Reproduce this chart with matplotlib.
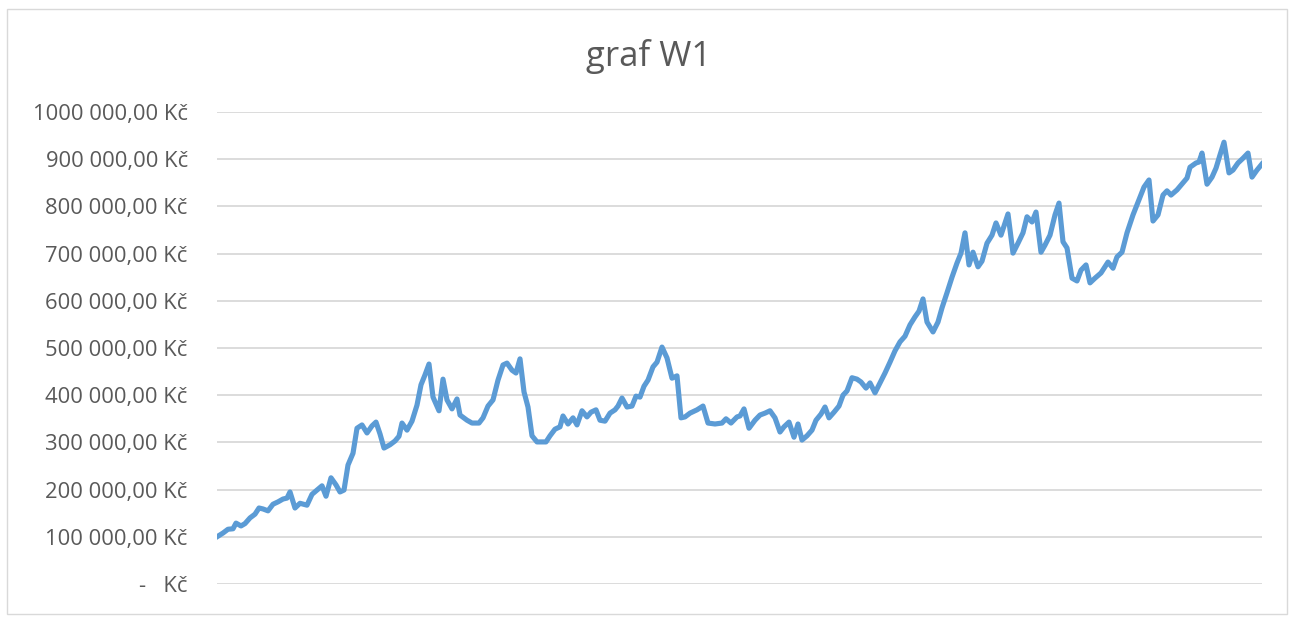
import matplotlib.pyplot as plt
from matplotlib.patches import Rectangle

# === Data ===
den = [0, 6, 11, 16, 19, 24, 28, 33, 38, 42, 46, 51, 56, 61, 66, 70, 73, 78, 83, 90,
       95, 100, 105, 109, 114, 119, 123, 127, 131, 136, 140, 145, 150, 155, 159, 163, 167, 173, 178, 182,
       185, 190, 195, 200, 204, 208, 212, 216, 222, 226, 230, 235, 240, 243, 250, 255, 262, 266, 271, 276,
       281, 286, 290, 295, 299, 303, 307, 311, 315, 320, 329, 333, 338, 343, 346, 351, 356, 360, 365, 370,
       374, 379, 383, 388, 393, 398, 401, 405, 410, 415, 419, 423, 427, 431, 436, 440, 445, 450, 455, 460,
       464, 468, 473, 480, 486, 491, 498, 505, 509, 514, 520, 523, 527, 532, 538, 543, 548, 553, 558, 563,
       567, 572, 577, 581, 585, 590, 595, 599, 604, 608, 612, 617, 622, 626, 630, 635, 640, 644, 649, 653,
       658, 663, 668, 673, 678, 683, 688, 693, 698, 702, 706, 710, 716, 721, 725, 730, 735, 740, 744, 748,
       752, 756, 761, 765, 770, 775, 779, 784, 788, 791, 796, 801, 806, 810, 815, 819, 824, 828, 833, 838,
       842, 846, 850, 855, 860, 864, 869, 873, 878, 884, 888, 891, 896, 900, 905, 910, 916, 922, 927, 932,
       936, 941, 946, 950, 954, 960, 966, 970, 973, 979, 982, 985, 990, 995, 999, 1003, 1007, 1012, 1016, 1021,
       1026, 1031, 1035, 1040, 1045]

hodnota_tis = [100, 108, 116, 117, 129, 123, 128, 140, 148, 161, 159, 155, 169, 174, 180, 182, 195, 161, 171, 167,
               190, 199, 208, 186, 225, 210, 195, 199, 252, 277, 330, 337, 320, 335, 343, 318, 288, 295, 303, 313,
               341, 326, 345, 379, 422, 443, 466, 396, 367, 434, 390, 371, 392, 358, 347, 341, 341, 352, 377, 390,
               432, 464, 468, 453, 447, 477, 407, 375, 314, 301, 301, 314, 328, 333, 356, 339, 352, 337, 367, 354,
               364, 369, 347, 345, 362, 369, 377, 394, 375, 377, 398, 396, 419, 432, 460, 470, 502, 479, 436, 441,
               352, 354, 362, 369, 377, 341, 339, 341, 350, 341, 354, 356, 371, 330, 347, 358, 362, 367, 352, 322,
               333, 343, 311, 339, 305, 314, 326, 347, 360, 375, 352, 364, 377, 400, 409, 437, 434, 428, 415, 426,
               405, 426, 447, 470, 494, 513, 525, 549, 566, 578, 604, 555, 534, 555, 585, 617, 650, 680, 701, 744,
               676, 703, 672, 684, 722, 739, 765, 739, 765, 784, 701, 722, 744, 778, 767, 788, 703, 718, 739, 782,
               807, 725, 712, 648, 642, 665, 676, 638, 648, 659, 672, 682, 669, 693, 703, 744, 782, 814, 841, 856,
               769, 782, 824, 833, 824, 835, 850, 860, 883, 892, 894, 913, 847, 862, 881, 909, 936, 871, 877, 892,
               902, 913, 862, 877, 890]

hodnoty = [v * 1000 for v in hodnota_tis]

y_ticks = [0, 100000, 200000, 300000, 400000, 500000, 600000, 700000, 800000, 900000, 1000000]
y_labels = ["-   Kč", "100 000,00 Kč", "200 000,00 Kč", "300 000,00 Kč", "400 000,00 Kč",
            "500 000,00 Kč", "600 000,00 Kč", "700 000,00 Kč", "800 000,00 Kč", "900 000,00 Kč",
            "1000 000,00 Kč"]

# === Graf ===
plt.rcParams['font.family'] = ['Open Sans', 'DejaVu Sans']
fig = plt.figure(figsize=(12.95, 6.22), dpi=100)
fig.patches.append(Rectangle((7 / 1295, 8 / 622), 1280 / 1295, 605 / 622,
                             transform=fig.transFigure, fill=False,
                             edgecolor='#D9D9D9', linewidth=1.0))

ax = fig.add_axes([217 / 1295, 38 / 622, 1045 / 1295, 472 / 622])
ax.plot(den, hodnoty, color='#5B9BD5', linewidth=3.7, solid_joinstyle='round', zorder=3)

ax.set_xlim(den[0], den[-1])
ax.set_ylim(0, 1000000)
ax.set_yticks(y_ticks)
ax.set_yticklabels(y_labels)
ax.set_xticks([])
ax.tick_params(axis='y', length=0, pad=21, labelsize=15.8, labelcolor='#595959')
ax.grid(axis='y', color='#D9D9D9', linewidth=1.3)
for s in ax.spines.values():
    s.set_visible(False)

fig.text(649 / 1295, 1 - 57 / 622, "graf W1", ha='center', va='center',
         fontsize=25, color='#595959')

fig.savefig("out.png", dpi=100)
